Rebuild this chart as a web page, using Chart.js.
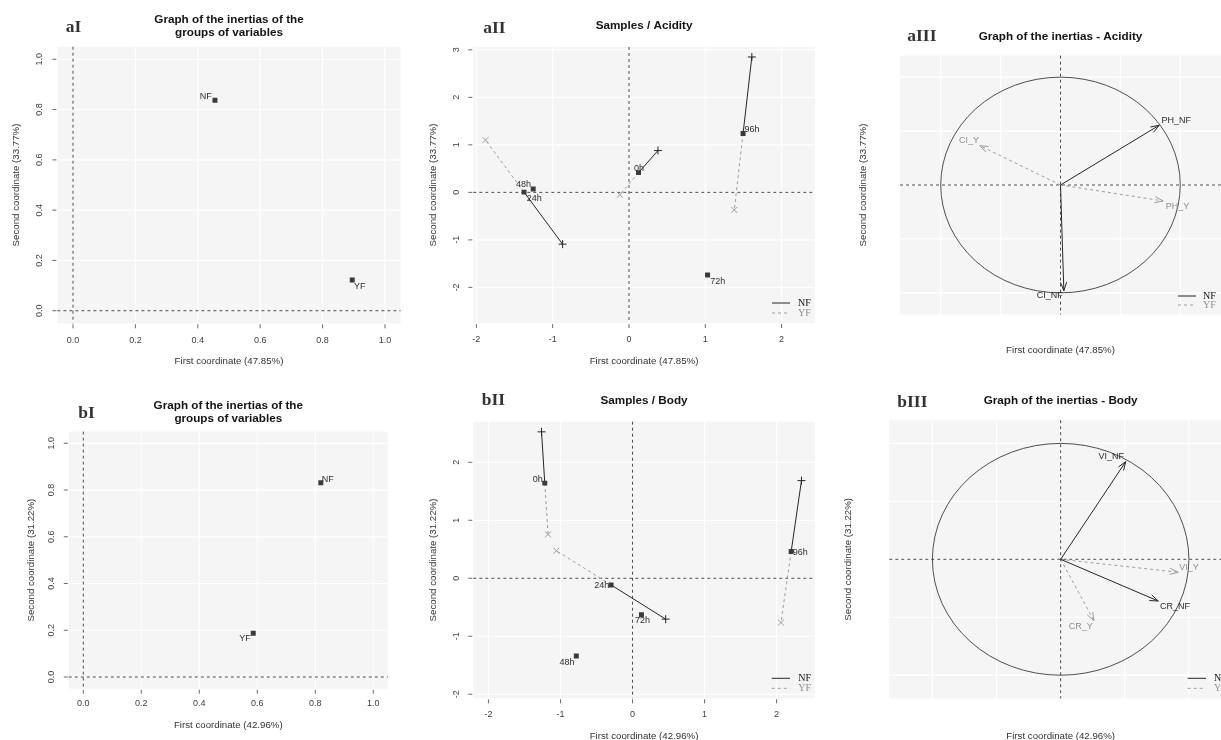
<!DOCTYPE html>
<html>
<head>
<meta charset="utf-8">
<title>MFA – Acidity and Body</title>
<script src="https://cdn.jsdelivr.net/npm/chart.js@4.4.1/dist/chart.umd.min.js"></script>
<style>
  html, body { margin: 0; padding: 0; background: #ffffff; width: 1221px; height: 740px; overflow: hidden; }
  #page { position: relative; width: 1221px; height: 740px; overflow: hidden; }
  canvas { position: absolute; }
</style>
</head>
<body>
<div id="page"></div>
<script>
// ---------- groups of variables ----------
const groupNames = ['NF', 'YF'];
const acidGroupX = [0.455, 0.895];
const acidGroupY = [0.837, 0.122];
const bodyGroupX = [0.819, 0.586];
const bodyGroupY = [0.831, 0.187];

// ---------- samples (mean individuals) ----------
const sampleNames = ['0h', '24h', '48h', '72h', '96h'];
const acidMeanX = [0.125, -1.375, -1.255, 1.03, 1.495];
const acidMeanY = [0.415, 0.005, 0.07, -1.74, 1.24];
const bodyMeanX = [-1.218, -0.298, -0.78, 0.124, 2.202];
const bodyMeanY = [1.641, -0.115, -1.34, -0.63, 0.46];

// ---------- partial individuals (per group) ----------
const partialSamples = ['0h', '24h', '96h'];
const acidPartNFX = [0.38, -0.87, 1.61];
const acidPartNFY = [0.88, -1.09, 2.85];
const acidPartYFX = [-0.12, -1.88, 1.38];
const acidPartYFY = [-0.05, 1.10, -0.37];
const bodyPartNFX = [-1.263, 0.46, 2.345];
const bodyPartNFY = [2.525, -0.705, 1.684];
const bodyPartYFX = [-1.172, -1.057, 2.06];
const bodyPartYFY = [0.756, 0.475, -0.763];

// ---------- variables (correlation circle) ----------
const acidVarNames = ['PH_NF', 'CI_NF', 'CI_Y', 'PH_Y'];
const acidVarGroup = ['NF', 'NF', 'YF', 'YF'];
const acidVarX = [0.824, 0.028, -0.674, 0.857];
const acidVarY = [0.554, -0.98, 0.365, -0.148];
const bodyVarNames = ['VI_NF', 'CR_NF', 'VI_Y', 'CR_Y'];
const bodyVarGroup = ['NF', 'NF', 'YF', 'YF'];
const bodyVarX = [0.507, 0.761, 0.917, 0.26];
const bodyVarY = [0.842, -0.36, -0.112, -0.53];

// ---------- ticks ----------
const unitTicks = [0, 0.2, 0.4, 0.6, 0.8, 1.0];
const unitTickLabels = ['0.0', '0.2', '0.4', '0.6', '0.8', '1.0'];
const acidXTicks = [-2, -1, 0, 1, 2];
const acidYTicks = [-2, -1, 0, 1, 2, 3];
const bodyXTicks = [-2, -1, 0, 1, 2];
const bodyYTicks = [-2, -1, 0, 1, 2];
const circleGrid = [-1, -0.5, 0, 0.5, 1];

// ---------- styles ----------
const NF_COLOR = '#262626';
const YF_COLOR = '#9d9d9d';
const YF_TEXT = '#8e8e8e';
const MEAN_COLOR = '#3a3a3a';
const PLOT_BG = '#f5f5f5';
const SANS = '"Liberation Sans", Arial, Helvetica, sans-serif';
const SERIF = '"Liberation Serif", "Times New Roman", serif';

function pts(xs, ys) { return xs.map((v, i) => ({ x: v, y: ys[i] })); }

function meanDataset(xs, ys) {
  return {
    data: pts(xs, ys),
    pointStyle: 'rect',
    pointRadius: 3.5,
    pointBorderWidth: 0,
    backgroundColor: MEAN_COLOR,
    borderColor: MEAN_COLOR
  };
}

function groupsDatasets(xs, ys) { return [meanDataset(xs, ys)]; }

function samplesDatasets(mx, my, nfx, nfy, yfx, yfy) {
  const sets = [meanDataset(mx, my)];
  partialSamples.forEach((name, i) => {
    const k = sampleNames.indexOf(name);
    sets.push({
      data: [{ x: mx[k], y: my[k] }, { x: nfx[i], y: nfy[i] }],
      showLine: true, borderColor: NF_COLOR, borderWidth: 1,
      pointStyle: 'cross', pointRadius: [0, 4], pointBorderColor: NF_COLOR,
      pointBorderWidth: 1, backgroundColor: NF_COLOR
    });
    sets.push({
      data: [{ x: mx[k], y: my[k] }, { x: yfx[i], y: yfy[i] }],
      showLine: true, borderColor: YF_COLOR, borderWidth: 1, borderDash: [3, 3],
      pointStyle: 'crossRot', pointRadius: [0, 4.2], pointBorderColor: YF_COLOR,
      pointBorderWidth: 1, backgroundColor: YF_COLOR
    });
  });
  return sets;
}

function arrowDatasets(xs, ys, groups) {
  return xs.map((v, i) => {
    const nf = groups[i] === 'NF';
    return {
      data: [{ x: 0, y: 0 }, { x: v, y: ys[i] }],
      showLine: true,
      borderColor: nf ? NF_COLOR : YF_COLOR,
      borderWidth: 1,
      borderDash: nf ? [] : [3, 3],
      pointRadius: 0
    };
  });
}

// ---------- panel layout ----------
const panels = [
  {
    id: 'aI', kind: 'groups', box: [0, 0, 405, 370], area: [57.4, 46.7, 400.6, 323.3],
    x: [-0.05, 1.05], y: [-0.05, 1.05],
    xTicks: unitTicks, xLabels: unitTickLabels, yTicks: unitTicks, yLabels: unitTickLabels,
    grid: [unitTicks, unitTicks],
    title: ['Graph of the inertias of the', 'groups of variables'], titleY: [19.3, 32.3],
    tag: ['aI', 65.7, 27.3],
    xTitle: 'First coordinate (47.85%)', xTitleY: 361, xTickY: 340.5,
    yTitle: 'Second coordinate (33.77%)', yTitleX: 16.7, yTickX: 40,
    names: groupNames,
    place: { NF: [-3.3, -3.6, 'right'], YF: [1.7, 6, 'left'] },
    datasets: groupsDatasets(acidGroupX, acidGroupY)
  },
  {
    id: 'aII', kind: 'samples', box: [405, 0, 415, 370], area: [473.3, 47, 816.7, 323],
    x: [-2.04, 2.435], y: [-2.75, 3.06],
    xTicks: acidXTicks, xLabels: acidXTicks.map(String), yTicks: acidYTicks, yLabels: acidYTicks.map(String),
    grid: [acidXTicks, acidYTicks],
    title: ['Samples / Acidity'], titleY: [25.3],
    tag: ['aII', 483.3, 28.3],
    xTitle: 'First coordinate (47.85%)', xTitleY: 361, xTickY: 340,
    yTitle: 'Second coordinate (33.77%)', yTitleX: 433.3, yTickX: 457,
    names: sampleNames,
    place: { '0h': [0.5, -4, 'center'], '24h': [2.7, 6, 'left'], '48h': [-2.3, -4.7, 'right'],
             '72h': [2.7, 6, 'left'], '96h': [1.4, -4, 'left'] },
    legend: { lineX: [772, 790], textX: 798, rowY: [303, 313] },
    datasets: samplesDatasets(acidMeanX, acidMeanY, acidPartNFX, acidPartNFY, acidPartYFX, acidPartYFY)
  },
  {
    id: 'aIII', kind: 'circle', box: [820, 0, 401, 370], area: [900, 55.6, 1221, 314.4],
    x: [-1.34, 1.34], y: [-1.2, 1.2],
    grid: [circleGrid, circleGrid],
    title: ['Graph of the inertias - Acidity'], titleY: [36.7],
    tag: ['aIII', 907.3, 36.7],
    xTitle: 'First coordinate (47.85%)', xTitleY: 350,
    yTitle: 'Second coordinate (33.77%)', yTitleX: 863,
    names: acidVarNames, groups: acidVarGroup,
    place: { PH_NF: [2.4, -4.6, 'left'], CI_NF: [-1, 5.3, 'right'], CI_Y: [-0.7, -4.7, 'right'], PH_Y: [2.7, 6, 'left'] },
    legend: { lineX: [1178, 1196], textX: 1203, rowY: [296, 305] },
    datasets: arrowDatasets(acidVarX, acidVarY, acidVarGroup)
  },
  {
    id: 'bI', kind: 'groups', box: [0, 370, 405, 370], area: [68.8, 431.6, 387.8, 688.7],
    x: [-0.05, 1.05], y: [-0.05, 1.05],
    xTicks: unitTicks, xLabels: unitTickLabels, yTicks: unitTicks, yLabels: unitTickLabels,
    grid: [unitTicks, unitTicks],
    title: ['Graph of the inertias of the', 'groups of variables'], titleY: [406, 418.3],
    tag: ['bI', 78.3, 413.3],
    xTitle: 'First coordinate (42.96%)', xTitleY: 725, xTickY: 703.3,
    yTitle: 'Second coordinate (31.22%)', yTitleX: 31.7, yTickX: 51.7,
    names: groupNames,
    place: { NF: [1, -3.4, 'left'], YF: [-2.6, 5, 'right'] },
    datasets: groupsDatasets(bodyGroupX, bodyGroupY)
  },
  {
    id: 'bII', kind: 'samples', box: [405, 370, 415, 370], area: [473.3, 421.7, 817, 698.3],
    x: [-2.21, 2.53], y: [-2.07, 2.70],
    xTicks: bodyXTicks, xLabels: bodyXTicks.map(String), yTicks: bodyYTicks, yLabels: bodyYTicks.map(String),
    grid: [bodyXTicks, bodyYTicks],
    title: ['Samples / Body'], titleY: [400.7],
    tag: ['bII', 481.7, 400.7],
    xTitle: 'First coordinate (42.96%)', xTitleY: 736.7, xTickY: 715,
    yTitle: 'Second coordinate (31.22%)', yTitleX: 433.3, yTickX: 456.7,
    names: sampleNames,
    place: { '0h': [-2, -4, 'right'], '24h': [-1.7, 1, 'right'], '48h': [-1.7, 6.7, 'right'],
             '72h': [1, 6, 'center'], '96h': [1.6, 1, 'left'] },
    legend: { lineX: [771.7, 790], textX: 798.3, rowY: [678.3, 688.3] },
    datasets: samplesDatasets(bodyMeanX, bodyMeanY, bodyPartNFX, bodyPartNFY, bodyPartYFX, bodyPartYFY)
  },
  {
    id: 'bIII', kind: 'circle', box: [820, 370, 412, 370], area: [889.3, 420.2, 1232, 698.4],
    x: [-1.336, 1.336], y: [-1.2, 1.2],
    grid: [circleGrid, circleGrid],
    title: ['Graph of the inertias - Body'], titleY: [400.7],
    tag: ['bIII', 897.3, 402.3],
    xTitle: 'First coordinate (42.96%)', xTitleY: 736.7,
    yTitle: 'Second coordinate (31.22%)', yTitleX: 848.3,
    names: bodyVarNames, groups: bodyVarGroup,
    place: { VI_NF: [-1.7, -5, 'right'], CR_NF: [1.7, 5.7, 'left'], VI_Y: [1, -5, 'left'], CR_Y: [-1.3, 6, 'right'] },
    legend: { lineX: [1187.7, 1206], textX: 1214, rowY: [678.3, 688.3] },
    datasets: arrowDatasets(bodyVarX, bodyVarY, bodyVarGroup)
  }
];

function hline(ctx, x0, x1, y) { ctx.beginPath(); ctx.moveTo(x0, y); ctx.lineTo(x1, y); ctx.stroke(); }
function vline(ctx, x, y0, y1) { ctx.beginPath(); ctx.moveTo(x, y0); ctx.lineTo(x, y1); ctx.stroke(); }

function decorations(def) {
  const ox = def.box[0], oy = def.box[1];
  return {
    id: 'panelDecor',
    beforeDatasetsDraw(chart) {
      const { ctx, chartArea: a, scales: { x, y } } = chart;
      ctx.save();
      ctx.fillStyle = PLOT_BG;
      ctx.fillRect(a.left, a.top, a.right - a.left, a.bottom - a.top);
      // white grid
      ctx.strokeStyle = '#ffffff';
      ctx.lineWidth = 1.2;
      def.grid[0].forEach(v => { const px = x.getPixelForValue(v); if (px >= a.left && px <= a.right) vline(ctx, px, a.top, a.bottom); });
      def.grid[1].forEach(v => { const py = y.getPixelForValue(v); if (py >= a.top && py <= a.bottom) hline(ctx, a.left, a.right, py); });
      // dashed origin lines
      ctx.lineWidth = 1;
      ctx.strokeStyle = '#4a4a4a';
      ctx.setLineDash([3, 3]);
      vline(ctx, x.getPixelForValue(0), a.top, a.bottom);
      hline(ctx, a.left, a.right, y.getPixelForValue(0));
      ctx.setLineDash([]);
      // unit circle for the variable plots
      if (def.kind === 'circle') {
        const cx = x.getPixelForValue(0), cy = y.getPixelForValue(0);
        const rx = x.getPixelForValue(1) - cx, ry = cy - y.getPixelForValue(1);
        ctx.strokeStyle = '#3c3c3c';
        ctx.lineWidth = 0.9;
        ctx.beginPath();
        ctx.ellipse(cx, cy, rx, ry, 0, 0, Math.PI * 2);
        ctx.stroke();
      }
      ctx.restore();
    },
    afterDatasetsDraw(chart) {
      const { ctx } = chart;
      ctx.save();
      ctx.font = '9px ' + SANS;
      ctx.textBaseline = 'middle';
      if (def.kind === 'circle') {
        def.names.forEach((name, i) => {
          const meta = chart.getDatasetMeta(i);
          const p0 = meta.data[0], p1 = meta.data[1];
          const nf = def.groups[i] === 'NF';
          const col = nf ? NF_COLOR : YF_COLOR;
          // open arrow head
          const ang = Math.atan2(p1.y - p0.y, p1.x - p0.x);
          const len = 9, spread = Math.PI / 9;
          ctx.strokeStyle = col;
          ctx.lineWidth = 1;
          ctx.beginPath();
          ctx.moveTo(p1.x - len * Math.cos(ang - spread), p1.y - len * Math.sin(ang - spread));
          ctx.lineTo(p1.x, p1.y);
          ctx.lineTo(p1.x - len * Math.cos(ang + spread), p1.y - len * Math.sin(ang + spread));
          ctx.stroke();
          const [dx, dy, align] = def.place[name];
          ctx.fillStyle = nf ? '#2a2a2a' : YF_TEXT;
          ctx.textAlign = align;
          ctx.fillText(name, p1.x + dx, p1.y + dy);
        });
      } else {
        const meta = chart.getDatasetMeta(0);
        def.names.forEach((name, i) => {
          const p = meta.data[i];
          const [dx, dy, align] = def.place[name];
          ctx.fillStyle = '#2e2e2e';
          ctx.textAlign = align;
          ctx.fillText(name, p.x + dx, p.y + dy);
        });
      }
      // legend
      if (def.legend) {
        const L = def.legend;
        ctx.translate(-ox, -oy);
        ctx.lineWidth = 1;
        ctx.font = '10px ' + SERIF;
        ctx.textAlign = 'left';
        [['NF', NF_COLOR, [], '#111111'], ['YF', YF_COLOR, [3, 3], YF_TEXT]].forEach(([lab, col, dash, tcol], r) => {
          ctx.strokeStyle = col;
          ctx.setLineDash(dash);
          hline(ctx, L.lineX[0], L.lineX[1], L.rowY[r]);
          ctx.setLineDash([]);
          ctx.fillStyle = tcol;
          ctx.fillText(lab, L.textX, L.rowY[r]);
        });
      }
      ctx.restore();
    },
    afterDraw(chart) {
      const { ctx, chartArea: a, scales: { x, y } } = chart;
      ctx.save();
      const midX = (a.left + a.right) / 2, midY = (a.top + a.bottom) / 2;
      ctx.textBaseline = 'middle';
      // axis ticks and tick labels
      if (def.xTicks) {
        ctx.strokeStyle = '#6a6a6a';
        ctx.lineWidth = 1;
        ctx.fillStyle = '#404040';
        ctx.font = '9px ' + SANS;
        ctx.textAlign = 'center';
        def.xTicks.forEach((v, i) => {
          const px = x.getPixelForValue(v);
          vline(ctx, px, a.bottom + 1, a.bottom + 5);
          ctx.fillText(def.xLabels[i], px, def.xTickY - oy);
        });
        def.yTicks.forEach((v, i) => {
          const py = y.getPixelForValue(v);
          hline(ctx, a.left - 5, a.left - 1, py);
          ctx.save();
          ctx.translate(def.yTickX - ox, py);
          ctx.rotate(-Math.PI / 2);
          ctx.fillText(def.yLabels[i], 0, 0);
          ctx.restore();
        });
      }
      // axis titles
      ctx.fillStyle = '#333333';
      ctx.font = '9.7px ' + SANS;
      ctx.textAlign = 'center';
      ctx.fillText(def.xTitle, midX, def.xTitleY - oy);
      ctx.save();
      ctx.translate(def.yTitleX - ox, midY);
      ctx.rotate(-Math.PI / 2);
      ctx.fillText(def.yTitle, 0, 0);
      ctx.restore();
      // panel title
      ctx.fillStyle = '#141414';
      ctx.font = 'bold 11.7px ' + SANS;
      def.title.forEach((t, i) => ctx.fillText(t, midX, def.titleY[i] - oy));
      // panel tag
      ctx.fillStyle = '#333333';
      ctx.font = 'bold 17.5px ' + SERIF;
      ctx.textAlign = 'left';
      ctx.fillText(def.tag[0], def.tag[1] - ox, def.tag[2] - oy);
      ctx.restore();
    }
  };
}

const page = document.getElementById('page');
panels.forEach(def => {
  const [left, top, w, h] = def.box;
  const cv = document.createElement('canvas');
  cv.width = w; cv.height = h;
  cv.style.left = left + 'px'; cv.style.top = top + 'px';
  cv.style.width = w + 'px'; cv.style.height = h + 'px';
  page.appendChild(cv);
  const a = def.area;
  new Chart(cv, {
    type: 'scatter',
    data: { datasets: def.datasets },
    options: {
      responsive: false,
      animation: false,
      events: [],
      layout: { padding: { left: a[0] - left, top: a[1] - top, right: left + w - a[2], bottom: top + h - a[3] } },
      plugins: { legend: { display: false }, tooltip: { enabled: false }, title: { display: false } },
      scales: {
        x: { type: 'linear', display: false, min: def.x[0], max: def.x[1] },
        y: { type: 'linear', display: false, min: def.y[0], max: def.y[1] }
      }
    },
    plugins: [decorations(def)]
  });
});
</script>
</body>
</html>
